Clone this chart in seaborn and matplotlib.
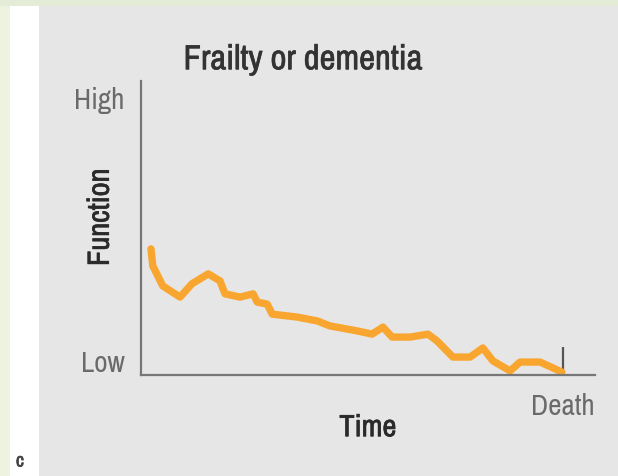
"""Frailty or dementia trajectory sketch."""
import matplotlib
matplotlib.use("Agg")
import matplotlib.pyplot as plt
import matplotlib.patheffects as pe
from matplotlib import font_manager
from matplotlib.patches import Rectangle
import seaborn as sns

# time runs 0..100 along the axis, function 0 (low) .. 100 (high)
time = [2.2, 2.6, 4.8, 8.6, 11.2, 14.8, 17.4, 18.5, 21.8, 24.7, 25.6, 27.8,
        28.9, 34.4, 38.8, 41.6, 47.6, 50.9, 53.3, 55.3, 59.3, 63.2, 65.2,
        68.7, 72.5, 75.3, 77.5, 81.3, 83.5, 87.9, 92.7]
function = [42.9, 37.1, 30.3, 26.5, 31.0, 34.4, 32.0, 27.6, 26.5, 27.6, 24.8,
            24.1, 20.7, 19.7, 18.4, 16.7, 15.0, 13.9, 16.3, 12.9, 12.9, 13.9,
            11.6, 6.1, 6.1, 9.2, 4.8, 1.4, 4.4, 4.4, 1.0]
y_ticks = [5, 94.6]
y_labels = ["Low", "High"]
death_at = 93
title = "Frailty or dementia"

BG = "#e6e6e6"
ORANGE = "#f9a631"
AXIS = "#777777"

sns.set_theme(style="white")

# prefer a narrow face if one is around, the original uses a condensed sans
narrow = sorted({f.name for f in font_manager.fontManager.ttflist
                 if "Narrow" in f.name or "Condensed" in f.name})
if narrow:
    plt.rcParams["font.family"] = [narrow[0], "DejaVu Sans"]
    FS = 21
else:
    plt.rcParams["font.family"] = ["Liberation Sans", "DejaVu Sans"]
    FS = 17
plt.rcParams["font.stretch"] = "condensed"


def heavy(color):
    # slight extra stroke to get closer to the print weight
    return [pe.withStroke(linewidth=0.5, foreground=color)]


W, H = 618, 477
fig = plt.figure(figsize=(W / 100, H / 100), dpi=100, facecolor=BG)
# white margin strip and faded green edge on the left, green-ish band on top
fig.patches.append(Rectangle((0, 0), 39 / W, 1, transform=fig.transFigure,
                             facecolor="white", edgecolor="none", zorder=-2))
fig.patches.append(Rectangle((0, 0), 10 / W, 1, transform=fig.transFigure,
                             facecolor="#eef3df", edgecolor="none", zorder=-1))
fig.patches.append(Rectangle((0, 1 - 7 / H), 1, 7 / H, transform=fig.transFigure,
                             facecolor="#e4ecd8", edgecolor="none", zorder=-1))

left, right, top, bottom = 141, 595, 82, 376
ax = fig.add_axes([left / W, (H - bottom) / H, (right - left) / W, (bottom - top) / H])
ax.set_facecolor("none")

sns.lineplot(x=time, y=function, ax=ax, color=ORANGE, linewidth=5.3,
             solid_capstyle="round", solid_joinstyle="round")

ax.set_xlim(0, 100)
ax.set_ylim(0, 100)
for side in ("top", "right"):
    ax.spines[side].set_visible(False)
for side in ("left", "bottom"):
    ax.spines[side].set_color(AXIS)
    ax.spines[side].set_linewidth(1.6)

ax.set_yticks(y_ticks, y_labels)
ax.tick_params(axis="y", left=False, length=0, pad=12, labelsize=FS,
               labelcolor="#6a6a6a")
ax.set_xticks([death_at], ["Death"])
ax.tick_params(axis="x", bottom=True, direction="in", length=20, width=1.6,
               color="#555555", pad=12, labelsize=FS, labelcolor="#6a6a6a")

ax.set_xlabel("Time", fontsize=FS + 1, fontweight="bold", color="#2a2a2a",
              path_effects=heavy("#2a2a2a"))
ax.xaxis.set_label_coords(0.5, -0.13)
ax.set_ylabel("Function", fontsize=FS + 1, fontweight="bold", color="#2a2a2a",
              path_effects=heavy("#2a2a2a"))
ax.yaxis.set_label_coords(-0.06, 0.537)

ax.text(0.357, 1.04, title, transform=ax.transAxes, ha="center", va="baseline",
        fontsize=FS + 4, fontweight="bold", color="#333333",
        path_effects=heavy("#333333"))
fig.text(20 / W, 1 - 462 / H, "c", ha="center", va="center", fontsize=14,
         fontweight="bold", color="#444444", path_effects=heavy("#444444"))

fig.savefig("out.png", dpi=100, facecolor=BG)
